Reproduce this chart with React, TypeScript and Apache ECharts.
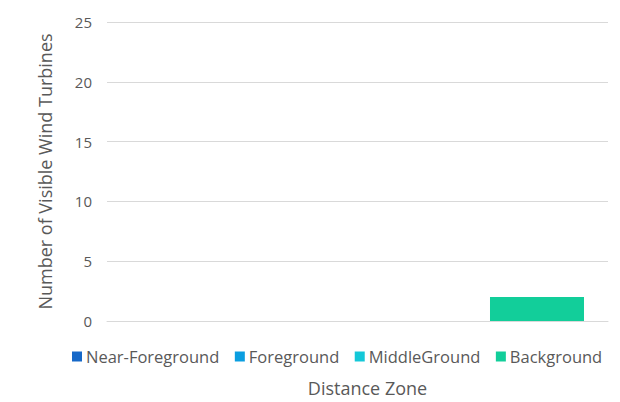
import React, { useEffect, useRef } from "react";
import * as echarts from "echarts";

const categories = [""];
const seriesNames = ["Near-Foreground", "Foreground", "MiddleGround", "Background"];
const seriesValues = [[0], [0], [0], [2]];
const colors = ["#1668C8", "#0A9EE0", "#14C8D8", "#12CE9A"];
const yTicks = { min: 0, max: 25, interval: 5 };

export default function App() {
  const ref = useRef<HTMLDivElement>(null);
  useEffect(() => {
    if (!ref.current) return;
    const chart = echarts.init(ref.current, undefined, { renderer: "svg" });
    const font = "'Open Sans', 'Noto Sans', sans-serif";
    chart.setOption({
      animation: false,
      textStyle: { fontFamily: font },
      grid: { left: 107, right: 12, top: 22, bottom: 79, containLabel: false },
      legend: {
        left: 67,
        top: 343,
        icon: "rect",
        itemWidth: 10,
        itemHeight: 10,
        itemGap: 15.5,
        textStyle: { fontSize: 16.5, color: "#595959", fontFamily: font, padding: [0, 0, 0, -1] },
        data: seriesNames,
      },
      xAxis: {
        type: "category",
        data: categories,
        axisTick: { show: false },
        axisLabel: { show: false },
        axisLine: { show: true, lineStyle: { color: "#d9d9d9", width: 1 } },
        name: "Distance Zone",
        nameLocation: "middle",
        nameGap: 58,
        nameTextStyle: { fontSize: 18, color: "#595959", fontFamily: font, padding: [0, 0, 0, 20] },
      },
      yAxis: {
        type: "value",
        min: yTicks.min,
        max: yTicks.max,
        interval: yTicks.interval,
        axisLine: { show: false },
        axisTick: { show: false },
        axisLabel: { fontSize: 15, color: "#595959", margin: 15, fontFamily: font },
        splitLine: { lineStyle: { color: "#d9d9d9", width: 1 } },
        name: "Number of Visible Wind Turbines",
        nameLocation: "middle",
        nameGap: 53,
        nameTextStyle: { fontSize: 18, color: "#595959", fontFamily: font },
      },
      series: seriesNames.map((name, i) => ({
        name,
        type: "bar",
        data: seriesValues[i],
        barWidth: 94,
        barGap: "27.3%",
        itemStyle: { color: colors[i] },
      })),
    });
    return () => chart.dispose();
  }, []);
  return (
    <div
      ref={ref}
      style={{ position: "fixed", left: 0, top: 0, width: 620, height: 402, background: "#fff" }}
    />
  );
}
